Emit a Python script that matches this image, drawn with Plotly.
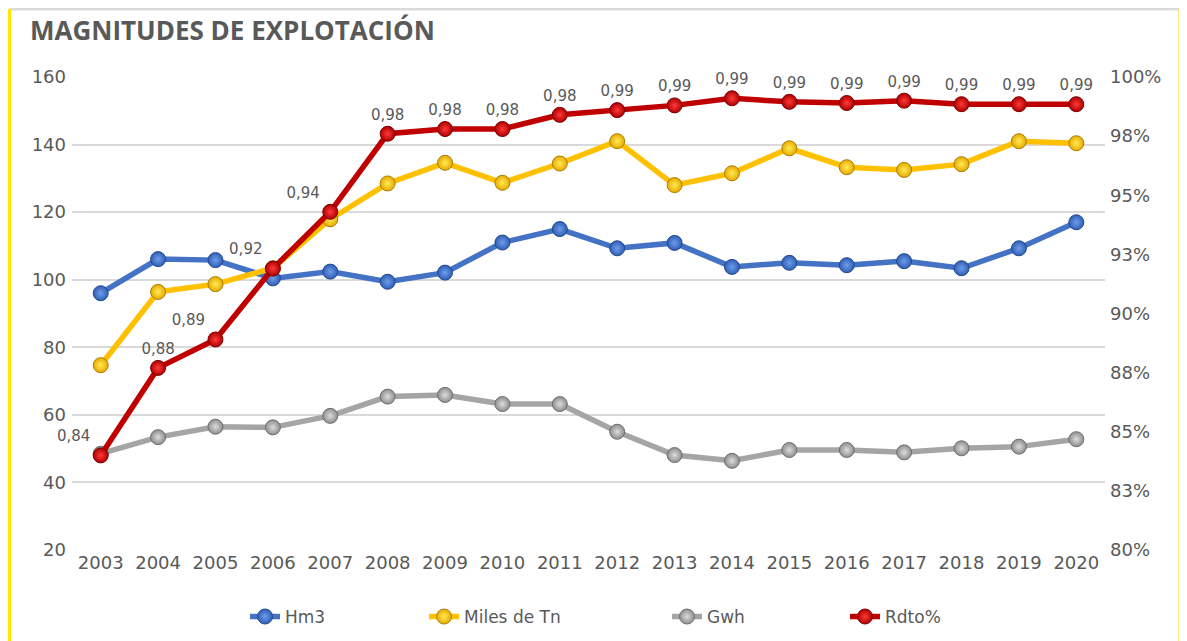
import plotly.graph_objects as go

years = [str(y) for y in range(2003, 2021)]
hm3 = [96.0, 106.1, 105.8, 100.4, 102.4, 99.4, 102.1, 111.0, 115.0, 109.3,
       110.9, 103.8, 105.0, 104.3, 105.5, 103.4, 109.3, 117.0]
miles_tn = [74.7, 96.4, 98.7, 103.4, 117.9, 128.5, 134.6, 128.7, 134.4, 141.0,
            128.0, 131.5, 138.9, 133.3, 132.5, 134.2, 141.0, 140.4]
gwh = [48.5, 53.4, 56.5, 56.3, 59.7, 65.4, 65.9, 63.2, 63.2, 55.0,
       48.1, 46.4, 49.6, 49.6, 48.9, 50.1, 50.6, 52.8]
rdto = [0.840, 0.877, 0.889, 0.919, 0.943, 0.976, 0.978, 0.978, 0.984, 0.986,
        0.988, 0.991, 0.9895, 0.989, 0.990, 0.9885, 0.9885, 0.9885]

left_ticks = [20, 40, 60, 80, 100, 120, 140, 160]
right_tickvals = [0.80, 0.825, 0.85, 0.875, 0.90, 0.925, 0.95, 0.975, 1.00]
right_ticktext = ["80%", "83%", "85%", "88%", "90%", "93%", "95%", "98%", "100%"]

TXT = "#595959"
FONT = "DejaVu Sans"

label_pos = ["top left", "top center", "top left", "top left", "top left"] + ["top center"] * 13

fig = go.Figure()

def add(name, y, line_c, mk_edge, mk_center, mk_line, yaxis="y", legend="legend", **kw):
    fig.add_trace(go.Scatter(
        x=years, y=y, name=name, mode=kw.pop("mode", "lines+markers"),
        yaxis=yaxis, legend=legend, cliponaxis=False,
        line=dict(color=line_c, width=5.5),
        marker=dict(size=15, color=mk_edge,
                    gradient=dict(type="radial", color=mk_center),
                    line=dict(color=mk_line, width=1)),
        **kw))

add("Hm3", hm3, "#4472C4", "#2F5FB5", "#6F9DEB", "#24488C", legend="legend")
add("Miles de Tn", miles_tn, "#FFC000", "#E8AA00", "#FFEB55", "#A87E00", legend="legend2")
add("Gwh", gwh, "#A5A5A5", "#8E8E8E", "#DCDCDC", "#6E6E6E", legend="legend3")
add("Rdto%", rdto, "#C00000", "#B00000", "#FF3A3A", "#7A0000", yaxis="y2", legend="legend4",
    mode="lines+markers+text", texttemplate="%{y:.2f}",
    textposition=label_pos,
    textfont=dict(family=FONT, size=15, color=TXT))

def leg(x):
    return dict(x=x, y=-0.1416, xanchor="left", yanchor="middle",
                orientation="h", bgcolor="rgba(0,0,0,0)",
                font=dict(family=FONT, size=17, color=TXT))

fig.update_layout(
    width=1187, height=641,
    margin=dict(l=64, r=90, t=69, b=99, autoexpand=False),
    paper_bgcolor="white", plot_bgcolor="white",
    separators=",.",
    title=dict(text="<b>MAGNITUDES DE EXPLOTACIÓN</b>", x=22/1187, xanchor="left",
               xref="container", y=1 - 23/641, yref="container", yanchor="middle",
               font=dict(family="Open Sans", size=26, color=TXT)),
    xaxis=dict(type="category", range=[-0.5, 17.5], showgrid=False, showline=False,
               zeroline=False, ticks="", automargin=False,
               tickfont=dict(family=FONT, size=18, color=TXT)),
    yaxis=dict(range=[20, 160], tickvals=left_ticks, showgrid=True, gridcolor="#D9D9D9",
               gridwidth=1.5, zeroline=False, showline=False, ticks="", automargin=False,
               ticklabelstandoff=5,
               tickfont=dict(family=FONT, size=18, color=TXT)),
    yaxis2=dict(range=[0.80, 1.00], overlaying="y", side="right", tickvals=right_tickvals,
                ticktext=right_ticktext, showgrid=False, zeroline=False, showline=False,
                automargin=False, ticklabelstandoff=4,
                tickfont=dict(family=FONT, size=18, color=TXT)),
    legend=leg(0.1675), legend2=leg(0.3408), legend3=leg(0.576), legend4=leg(0.7483),
    showlegend=True,
    shapes=[
        dict(type="line", xref="paper", yref="paper", x0=-0.0605, x1=1.0726,
             y0=1.1437, y1=1.1437, line=dict(color="#DADADA", width=3)),
        dict(type="line", xref="paper", yref="paper", x0=-0.0605, x1=-0.0605,
             y0=1.1437, y1=-0.2, line=dict(color="#FFE800", width=3)),
        dict(type="line", xref="paper", yref="paper", x0=1.0726, x1=1.0726,
             y0=1.1437, y1=-0.2, line=dict(color="#FFE800", width=3)),
    ],
)

fig.write_html("out.html")
